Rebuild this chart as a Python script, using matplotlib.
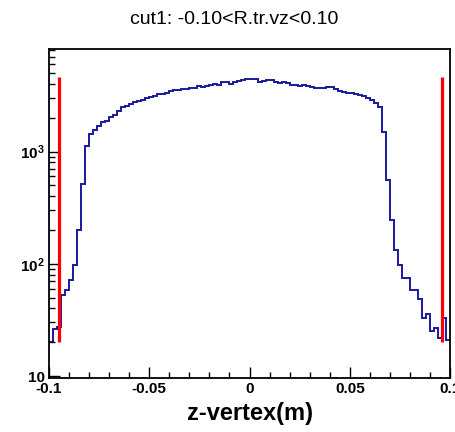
import numpy as np
import matplotlib
matplotlib.use("Agg")
import matplotlib.pyplot as plt
from matplotlib.ticker import FixedLocator, NullFormatter

plt.rcParams['font.family'] = ['Liberation Sans', 'DejaVu Sans']
plt.rcParams['mathtext.fontset'] = 'custom'
plt.rcParams['mathtext.rm'] = 'Liberation Sans:bold'
plt.rcParams['mathtext.bf'] = 'Liberation Sans:bold'
plt.rcParams['mathtext.it'] = 'Liberation Sans:bold'

title = "cut1: -0.10<R.tr.vz<0.10"
xlabel = "z-vertex(m)"
bin_lo, bin_hi, n_bins = -0.1, 0.1, 100
counts = [
    20, 26, 27.5, 53, 58, 72, 98, 202, 517, 1130,
    1440, 1570, 1680, 1830, 1890, 2050, 2130, 2320, 2480, 2550,
    2650, 2750, 2800, 2900, 2980, 3050, 3150, 3250, 3250, 3300,
    3450, 3550, 3500, 3600, 3620, 3650, 3700, 3800, 3780, 3850,
    3950, 4000, 3950, 4150, 4200, 4000, 4150, 4280, 4350, 4430,
    4430, 4400, 4200, 4280, 4350, 4300, 4200, 4100, 4200, 4100,
    3930, 3900, 3820, 3880, 3850, 3730, 3700, 3670, 3700, 3730,
    3730, 3600, 3490, 3400, 3350, 3300, 3250, 3200, 3100, 3000,
    2880, 2700, 2500, 1500, 553, 244, 132, 98, 74, 74,
    58, 58, 49, 32.7, 36, 25, 27, 21.7, 33, 21,
]
cut_x = [-0.0948, 0.0958]
cut_y = [20, 4600]
xticks = [-0.1, -0.05, 0, 0.05, 0.1]
xtick_labels = ["-0.1", "-0.05", "0", "0.05", "0.1"]
yticks = [10, 100, 1000]
ytick_labels = ["10", r"$10^{2}$", r"$10^{3}$"]
ylim = (9.6, 8200)

fig = plt.figure(figsize=(4.56, 4.32), dpi=100)
ax = fig.add_axes([49/456, 1 - 378/432, (450-49)/456, (378-49)/432])

edges = np.linspace(bin_lo, bin_hi, n_bins + 1)
ax.stairs(counts, edges, baseline=None, color='#1a1a9c', linewidth=1.4)
for xc in cut_x:
    ax.plot([xc, xc], cut_y, color='#ff0000', linewidth=2.3, solid_capstyle='butt')

ax.set_yscale('log')
ax.set_xlim(bin_lo, bin_hi)
ax.set_ylim(*ylim)

ax.xaxis.set_major_locator(FixedLocator(xticks))
ax.set_xticklabels(xtick_labels, fontsize=11, fontweight='bold')
ax.xaxis.set_minor_locator(FixedLocator(np.arange(-0.1, 0.1001, 0.01)))
ax.yaxis.set_major_locator(FixedLocator(yticks))
ax.set_yticklabels(ytick_labels, fontsize=11, fontweight='bold')
minor_y = [m * 10**d for d in range(0, 4) for m in range(2, 10)]
ax.yaxis.set_minor_locator(FixedLocator(minor_y))
ax.yaxis.set_minor_formatter(NullFormatter())

ax.tick_params(axis='both', which='major', direction='in', length=8, width=1, top=False, right=False)
ax.tick_params(axis='both', which='minor', direction='in', length=4.5, width=1, top=False, right=False)
ax.tick_params(axis='x', which='major', pad=3)
ax.tick_params(axis='y', which='major', pad=3)
for s in ax.spines.values():
    s.set_linewidth(1.3)

ax.set_xlabel(xlabel, fontsize=17, fontweight='bold', labelpad=4)
fig.text(234/456, 1 - 19/432, title, fontsize=14, ha='center', va='center')

fig.savefig("out.png", dpi=100)
